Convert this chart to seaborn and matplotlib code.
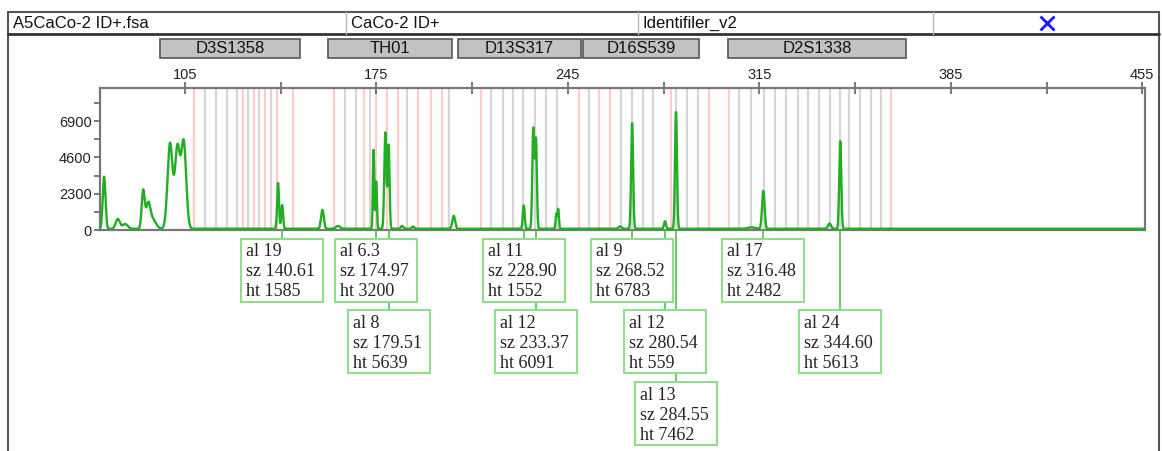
import numpy as np
import pandas as pd
import matplotlib
matplotlib.use("Agg")
import matplotlib.pyplot as plt
import matplotlib.transforms as mtransforms
from matplotlib.patches import Rectangle
from matplotlib.lines import Line2D
import seaborn as sns

# ---------------------------------------------------------------------------
# data
# ---------------------------------------------------------------------------
sample_file = "A5CaCo-2 ID+.fsa"
sample_name = "CaCo-2 ID+"
panel_name = "Identifiler_v2"

marker_names = ["D3S1358", "TH01", "D13S317", "D16S539", "D2S1338"]
marker_start = [95.9, 157.4, 205.0, 250.5, 303.6]
marker_end = [147.2, 202.8, 249.7, 293.0, 368.8]

# peaks of the trace: size (bp), height (rfu), width (bp)
peak_pos = [75.5, 80.5, 83.2, 89.8, 91.6, 93.2, 99.6, 102.3, 104.6,
            139.1, 140.6, 155.3, 161.0, 174.0, 174.97, 178.3, 179.51,
            184.4, 188.4, 203.3, 228.9, 232.4, 233.37, 240.8, 241.5,
            264.1, 268.52, 280.54, 284.55, 312.1, 316.48, 340.7, 344.6]
peak_height = [3300, 620, 300, 2400, 1450, 600, 5400, 5100, 5450,
               2900, 1500, 1200, 180, 5000, 3000, 6100, 5300,
               180, 140, 820, 1480, 6350, 5600, 950, 1250,
               150, 6700, 480, 7400, 90, 2400, 330, 5550]
peak_width = [0.5, 0.75, 0.95, 0.55, 0.75, 1.2, 0.9, 0.9, 0.9,
              0.34, 0.34, 0.5, 0.75, 0.25, 0.25, 0.38, 0.33,
              0.45, 0.45, 0.5, 0.34, 0.36, 0.33, 0.25, 0.25,
              0.55, 0.36, 0.36, 0.36, 1.2, 0.46, 0.55, 0.37]
baseline = 80

# allele bins
bin_pink = [108.3, 126.3, 130.3, 134.3, 138.7, 144.6, 159.6, 170.6, 175.0,
            179.0, 183.1, 190.4, 195.1, 199.2, 213.1, 249.0, 256.3, 260.3,
            282.7, 296.6, 303.9, 363.3]
bin_gray = [112.4, 116.4, 120.4, 124.1, 128.1, 132.1, 136.5, 163.6, 167.7,
            172.8, 186.4, 201.4, 217.1, 221.2, 224.8, 228.8, 232.9, 236.9,
            240.9, 252.7, 264.4, 268.4, 272.4, 276.1, 284.5, 288.6, 292.6,
            307.6, 312.0, 316.8, 320.8, 324.8, 329.2, 332.9, 336.9, 341.0,
            344.6, 347.9, 351.9, 355.9, 359.6]

# called alleles
allele_label = ["19", "6.3", "8", "11", "12", "9", "12", "13", "17", "24"]
allele_size = [140.61, 174.97, 179.51, 228.90, 233.37, 268.52, 280.54, 284.55, 316.48, 344.60]
allele_height = [1585, 3200, 5639, 1552, 6091, 6783, 559, 7462, 2482, 5613]
allele_row = [0, 0, 1, 0, 1, 0, 1, 2, 0, 1]

x_ticks = [105, 175, 245, 315, 385, 455]
x_minor = [140, 210, 280, 350, 420]
y_ticks = [0, 2300, 4600, 6900]
y_minor = [1150, 3450, 5750, 8050]

# ---------------------------------------------------------------------------
# trace
# ---------------------------------------------------------------------------
size = np.arange(74, 456, 0.05)
rfu = np.full_like(size, baseline, dtype=float)
for p, h, w in zip(peak_pos, peak_height, peak_width):
    rfu += h * np.exp(-0.5 * ((size - p) / w) ** 2)
df = pd.DataFrame({"size": size, "rfu": rfu})

sns.set_style("white")
plt.rcParams["font.family"] = ["Liberation Sans", "DejaVu Sans"]

W, H = 1162, 451
fig = plt.figure(figsize=(W / 100, H / 100), dpi=100)


def fx(px):
    return px / W


def fy(py):
    return 1 - py / H


ax_l, ax_r, ax_t, ax_b = 100, 1145, 88, 230
ax = fig.add_axes([fx(ax_l), fy(ax_b), (ax_r - ax_l) / W, (ax_b - ax_t) / H])

for b in bin_gray:
    ax.axvline(b, color="#d6d6d6", lw=1.6, zorder=0)
for b in bin_pink:
    ax.axvline(b, color="#ffcccc", lw=1.6, zorder=0)

sns.lineplot(data=df, x="size", y="rfu", ax=ax, color="#22ad22", lw=1.7, zorder=3)

ax.set_xlim(74, 456)
ax.set_ylim(0, 9000)
ax.set_xlabel("")
ax.set_ylabel("")
ax.xaxis.tick_top()
ax.set_xticks(x_ticks)
ax.set_xticks(x_minor, minor=True)
ax.set_yticks(y_ticks)
ax.set_yticks(y_minor, minor=True)
ax.tick_params(axis="x", which="both", direction="inout", length=8, width=1.1,
               color="#555555", labelsize=10.5, pad=0, labelcolor="#222222")
ax.tick_params(axis="y", which="both", direction="out", length=4, width=1.1,
               color="#555555", labelsize=10.5, pad=2, labelcolor="#222222", left=True)
for sp in ax.spines.values():
    sp.set_color("#777777")
    sp.set_linewidth(1.6)

# ---------------------------------------------------------------------------
# frame and header
# ---------------------------------------------------------------------------
frame_col = "#555555"
fig.add_artist(Line2D([fx(8), fx(8)], [fy(12), 0], color=frame_col, lw=1.5))
fig.add_artist(Line2D([fx(1159), fx(1159)], [fy(12), 0], color=frame_col, lw=1.5))
fig.add_artist(Line2D([fx(8), fx(1159)], [fy(12), fy(12)], color=frame_col, lw=1.5))
fig.add_artist(Line2D([fx(8), fx(1159)], [fy(34), fy(34)], color="#333333", lw=2))
for dx in [346, 638, 933]:
    fig.add_artist(Line2D([fx(dx), fx(dx)], [fy(12), fy(34)], color="#bbbbbb", lw=1))
fig.text(fx(13), fy(23), sample_file, fontsize=12, va="center", color="#111111")
fig.text(fx(351), fy(23), sample_name, fontsize=12, va="center", color="#111111")
fig.text(fx(643), fy(23), panel_name, fontsize=12, va="center", color="#111111")
fig.add_artist(Line2D([fx(1047)], [fy(23)], marker="x", color="#1a1aff",
                      markersize=10, mew=2))

blend = mtransforms.blended_transform_factory(ax.transData, fig.transFigure)
for name, s, e in zip(marker_names, marker_start, marker_end):
    fig.add_artist(Rectangle((s, fy(58)), e - s, (58 - 39) / H, transform=blend,
                             facecolor="#c2c2c2", edgecolor="#555555", lw=1.2))
    fig.text((s + e) / 2, fy(48.5), name, transform=blend, ha="center",
             va="center", fontsize=12, color="#111111")

# ---------------------------------------------------------------------------
# allele call boxes
# ---------------------------------------------------------------------------
row_top = [239, 310, 382]
box_h = 63
box_w = 82
for lab, s, ht, row in zip(allele_label, allele_size, allele_height, allele_row):
    px = ax.transData.transform((s, 0))[0] / fig.dpi * 100
    top = row_top[row]
    fig.add_artist(Line2D([fx(px), fx(px)], [fy(ax_b), fy(top)],
                          color="#4cc24c", lw=1.2, zorder=1))
    fig.add_artist(Rectangle((fx(px - box_w / 2), fy(top + box_h)), box_w / W, box_h / H,
                             facecolor="white", edgecolor="#8ede8e", lw=1.5, zorder=2))
    lines = [f"al {lab}", f"sz {s:.2f}", f"ht {ht}"]
    for i, t in enumerate(lines):
        fig.text(fx(px - box_w / 2 + 5), fy(top + 13 + 20 * i), t,
                 family=["Liberation Serif", "DejaVu Serif"], fontsize=13,
                 va="center", ha="left", color="#222222", zorder=3)

plt.savefig("out.png", dpi=100)
